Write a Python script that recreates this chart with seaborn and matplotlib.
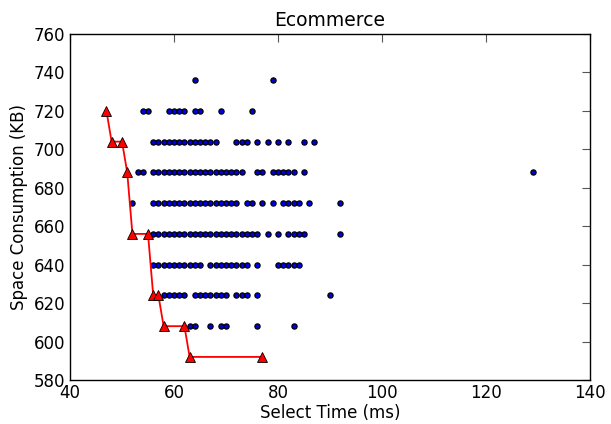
import numpy as np
import seaborn as sns
import pandas as pd
import matplotlib
matplotlib.use("Agg")
import matplotlib.pyplot as plt

# rows of configurations: space level (KB) -> select times (ms)
row_736 = [64, 79]
row_720 = [54, 55, 59, 60, 61, 62, 64, 65, 69, 75]
row_704 = list(range(56, 69)) + [72, 73, 74, 76, 78, 80, 82, 85, 87]
row_688 = [53, 54] + list(range(56, 74)) + [76, 77, 79, 80, 81, 82, 83, 85, 129]
row_672 = [52] + list(range(56, 73)) + [74, 75, 77, 79, 81, 82, 83, 84, 86, 92]
row_656 = list(range(56, 77)) + [78, 80, 82, 83, 84, 85, 92]
row_640 = list(range(56, 66)) + list(range(67, 75)) + [76, 80, 81, 82, 83, 84]
row_624 = list(range(58, 63)) + list(range(64, 71)) + [72, 73, 74, 76, 90]
row_608 = [63, 64, 67, 69, 70, 76, 83]

rows = {736: row_736, 720: row_720, 704: row_704, 688: row_688, 672: row_672,
        656: row_656, 640: row_640, 624: row_624, 608: row_608}

# pareto front
front_time = [47, 48, 50, 51, 52, 55, 56, 57, 58, 62, 63, 77]
front_space = [720, 704, 704, 688, 656, 656, 624, 624, 608, 608, 592, 592]

df = pd.DataFrame([(t, s) for s, ts in rows.items() for t in ts],
                  columns=['select_time', 'space'])
front = pd.DataFrame({'select_time': front_time, 'space': front_space})

sns.set_style("white")
plt.rcParams.update({
    'xtick.direction': 'in', 'ytick.direction': 'in',
    'xtick.top': True, 'ytick.right': True,
    'xtick.major.size': 6, 'ytick.major.size': 6,
    'xtick.color': '#555555', 'ytick.color': '#555555',
    'xtick.labelcolor': 'black', 'ytick.labelcolor': 'black',
    'text.color': 'black', 'axes.labelcolor': 'black',
})
plt.rcParams['font.family'] = ['DejaVu Sans']

fig, ax = plt.subplots(figsize=(6.11, 4.24), dpi=100)
fig.subplots_adjust(left=0.1146, right=0.9656, top=0.9198, bottom=0.1038)

sns.scatterplot(data=df, x='select_time', y='space', ax=ax, color='#0000dd',
                edgecolor='black', linewidth=0.9, s=14, zorder=2)
sns.lineplot(data=front, x='select_time', y='space', ax=ax, sort=False,
             color='red', linewidth=1.3, marker='^', markersize=7,
             markerfacecolor='red', markeredgecolor='black', markeredgewidth=0.6,
             zorder=3)

ax.set_xlim(40, 140)
ax.set_ylim(580, 760)
ax.set_xticks(np.arange(40, 141, 20))
ax.set_yticks(np.arange(580, 761, 20))
ax.tick_params(labelsize=12)
ax.tick_params(axis='x', pad=3)
for sp in ax.spines.values():
    sp.set_color('black')
    sp.set_linewidth(1.0)
ax.set_title('Ecommerce', fontsize=13.5)
ax.set_xlabel('Select Time (ms)', fontsize=12, labelpad=1)
ax.set_ylabel('Space Consumption (KB)', fontsize=12)

fig.savefig('out.png', dpi=100)
